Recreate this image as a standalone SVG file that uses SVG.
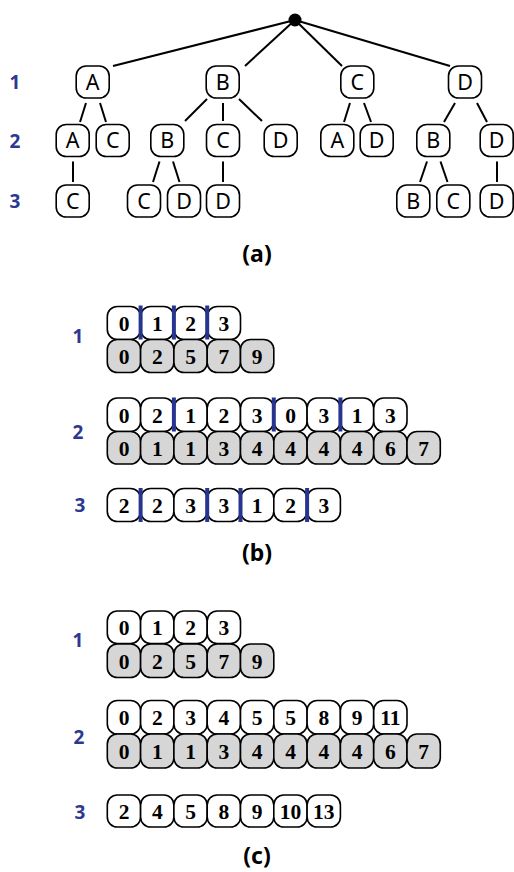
<svg xmlns="http://www.w3.org/2000/svg" width="514" height="872" viewBox="0 0 514 872">
<style>
.bg{fill:#ffffff}
.tn rect{fill:#fff;stroke:#000;stroke-width:1.6}
.tn text{font-family:"Noto Sans","Liberation Sans",sans-serif;font-size:21.5px;fill:#000;text-anchor:middle}
.edges line{stroke:#000;stroke-width:2;stroke-linecap:butt}
.lvl{font-family:"Noto Sans","Liberation Sans",sans-serif;font-size:19px;font-weight:bold;fill:#2b3990;text-anchor:middle}
.cap{font-family:"Noto Sans","Liberation Sans",sans-serif;font-size:23px;font-weight:bold;fill:#000;text-anchor:middle}
.cw rect{fill:#fff;stroke:#000;stroke-width:1.6}
.cg rect{fill:#d6d6d6;stroke:#000;stroke-width:1.6}
.cell text{font-family:"Liberation Serif","Times New Roman",serif;font-size:21.5px;font-weight:bold;fill:#000;text-anchor:middle}
.sep line{stroke:#27358f;stroke-width:4}
</style>
<rect class="bg" x="0" y="0" width="514" height="872"/>

<!-- (a) tree -->
<g class="edges" id="tree-edges">
<line x1="295" y1="20" x2="113" y2="66"/>
<line x1="295" y1="20" x2="245" y2="66"/>
<line x1="295" y1="20" x2="342" y2="66"/>
<line x1="295" y1="20" x2="450" y2="66"/>
<line x1="86" y1="103" x2="80" y2="122"/>
<line x1="100" y1="103" x2="106" y2="122"/>
<line x1="207" y1="99" x2="185" y2="121"/>
<line x1="223" y1="103" x2="223" y2="121"/>
<line x1="239" y1="99" x2="262" y2="121"/>
<line x1="350" y1="103" x2="344" y2="122"/>
<line x1="364" y1="103" x2="371" y2="122"/>
<line x1="455" y1="103" x2="444" y2="122"/>
<line x1="477" y1="103" x2="487" y2="122"/>
<line x1="73" y1="161.5" x2="73" y2="182"/>
<line x1="159.5" y1="161.5" x2="153" y2="182"/>
<line x1="173" y1="161.5" x2="179.5" y2="182"/>
<line x1="223" y1="161.5" x2="223" y2="182"/>
<line x1="427" y1="161.5" x2="420" y2="182"/>
<line x1="440.5" y1="161.5" x2="447.5" y2="182"/>
<line x1="497" y1="161.5" x2="497" y2="182"/>
</g>
<circle id="root" cx="295" cy="20" r="6.5" fill="#000"/>

<g id="n1A" class="tn"><rect x="76.2" y="66" width="33" height="32" rx="10"/><text x="92.7" y="89.5">A</text></g>
<g id="n1B" class="tn"><rect x="206.2" y="66" width="33" height="32" rx="10"/><text x="222.7" y="89.5">B</text></g>
<g id="n1C" class="tn"><rect x="340.8" y="66" width="33" height="32" rx="10"/><text x="357.3" y="89.5">C</text></g>
<g id="n1D" class="tn"><rect x="448.5" y="66" width="33" height="32" rx="10"/><text x="465" y="89.5">D</text></g>

<g id="n2AA" class="tn"><rect x="56.2" y="124.5" width="33" height="32" rx="10"/><text x="72.7" y="148">A</text></g>
<g id="n2AC" class="tn"><rect x="96.2" y="124.5" width="33" height="32" rx="10"/><text x="112.7" y="148">C</text></g>
<g id="n2BB" class="tn"><rect x="150.8" y="124.5" width="33" height="32" rx="10"/><text x="167.3" y="148">B</text></g>
<g id="n2BC" class="tn"><rect x="206.5" y="124.5" width="33" height="32" rx="10"/><text x="223" y="148">C</text></g>
<g id="n2BD" class="tn"><rect x="264.2" y="124.5" width="33" height="32" rx="10"/><text x="280.7" y="148">D</text></g>
<g id="n2CA" class="tn"><rect x="320.8" y="124.5" width="33" height="32" rx="10"/><text x="337.3" y="148">A</text></g>
<g id="n2CD" class="tn"><rect x="360.2" y="124.5" width="33" height="32" rx="10"/><text x="376.7" y="148">D</text></g>
<g id="n2DB" class="tn"><rect x="416.8" y="124.5" width="33" height="32" rx="10"/><text x="433.3" y="148">B</text></g>
<g id="n2DD" class="tn"><rect x="480.2" y="124.5" width="33" height="32" rx="10"/><text x="496.7" y="148">D</text></g>

<g id="n3AAC" class="tn"><rect x="56.2" y="185" width="33" height="32" rx="10"/><text x="72.7" y="208.5">C</text></g>
<g id="n3BBC" class="tn"><rect x="127.5" y="185" width="33" height="32" rx="10"/><text x="144" y="208.5">C</text></g>
<g id="n3BBD" class="tn"><rect x="167.5" y="185" width="33" height="32" rx="10"/><text x="184" y="208.5">D</text></g>
<g id="n3BCD" class="tn"><rect x="206.5" y="185" width="33" height="32" rx="10"/><text x="223" y="208.5">D</text></g>
<g id="n3DBB" class="tn"><rect x="396.8" y="185" width="33" height="32" rx="10"/><text x="413.3" y="208.5">B</text></g>
<g id="n3DBC" class="tn"><rect x="436.8" y="185" width="33" height="32" rx="10"/><text x="453.3" y="208.5">C</text></g>
<g id="n3DDD" class="tn"><rect x="480.2" y="185" width="33" height="32" rx="10"/><text x="496.7" y="208.5">D</text></g>

<g id="tree-levels">
<text class="lvl" x="15" y="89">1</text>
<text class="lvl" x="15" y="148">2</text>
<text class="lvl" x="15" y="208">3</text>
</g>
<text class="cap" x="257" y="262">(a)</text>

<!-- (b) -->
<g id="b1-top" class="cell cw">
<rect x="107.3" y="306.5" width="33.3" height="33" rx="10"/><text x="124" y="330.5">0</text>
<rect x="140.6" y="306.5" width="33.3" height="33" rx="10"/><text x="157.3" y="330.5">1</text>
<rect x="173.9" y="306.5" width="33.3" height="33" rx="10"/><text x="190.6" y="330.5">2</text>
<rect x="207.2" y="306.5" width="33.3" height="33" rx="10"/><text x="223.9" y="330.5">3</text>
</g>
<g id="b1-bot" class="cell cg">
<rect x="107.3" y="339.5" width="33.3" height="33" rx="10"/><text x="124" y="363.5">0</text>
<rect x="140.6" y="339.5" width="33.3" height="33" rx="10"/><text x="157.3" y="363.5">2</text>
<rect x="173.9" y="339.5" width="33.3" height="33" rx="10"/><text x="190.6" y="363.5">5</text>
<rect x="207.2" y="339.5" width="33.3" height="33" rx="10"/><text x="223.9" y="363.5">7</text>
<rect x="240.5" y="339.5" width="33.3" height="33" rx="10"/><text x="257.2" y="363.5">9</text>
</g>
<g id="b1-sep" class="sep">
<line x1="140.6" y1="305.5" x2="140.6" y2="339.5"/>
<line x1="173.9" y1="305.5" x2="173.9" y2="339.5"/>
<line x1="207.2" y1="305.5" x2="207.2" y2="339.5"/>
</g>

<g id="b2-top" class="cell cw">
<rect x="107.3" y="398" width="33.3" height="33.5" rx="10"/><text x="124" y="422.5">0</text>
<rect x="140.6" y="398" width="33.3" height="33.5" rx="10"/><text x="157.3" y="422.5">2</text>
<rect x="173.9" y="398" width="33.3" height="33.5" rx="10"/><text x="190.6" y="422.5">1</text>
<rect x="207.2" y="398" width="33.3" height="33.5" rx="10"/><text x="223.9" y="422.5">2</text>
<rect x="240.5" y="398" width="33.3" height="33.5" rx="10"/><text x="257.2" y="422.5">3</text>
<rect x="273.8" y="398" width="33.3" height="33.5" rx="10"/><text x="290.5" y="422.5">0</text>
<rect x="307.1" y="398" width="33.3" height="33.5" rx="10"/><text x="323.8" y="422.5">3</text>
<rect x="340.4" y="398" width="33.3" height="33.5" rx="10"/><text x="357.1" y="422.5">1</text>
<rect x="373.7" y="398" width="33.3" height="33.5" rx="10"/><text x="390.4" y="422.5">3</text>
</g>
<g id="b2-bot" class="cell cg">
<rect x="107.3" y="431.5" width="33.3" height="32.5" rx="10"/><text x="124" y="455.5">0</text>
<rect x="140.6" y="431.5" width="33.3" height="32.5" rx="10"/><text x="157.3" y="455.5">1</text>
<rect x="173.9" y="431.5" width="33.3" height="32.5" rx="10"/><text x="190.6" y="455.5">1</text>
<rect x="207.2" y="431.5" width="33.3" height="32.5" rx="10"/><text x="223.9" y="455.5">3</text>
<rect x="240.5" y="431.5" width="33.3" height="32.5" rx="10"/><text x="257.2" y="455.5">4</text>
<rect x="273.8" y="431.5" width="33.3" height="32.5" rx="10"/><text x="290.5" y="455.5">4</text>
<rect x="307.1" y="431.5" width="33.3" height="32.5" rx="10"/><text x="323.8" y="455.5">4</text>
<rect x="340.4" y="431.5" width="33.3" height="32.5" rx="10"/><text x="357.1" y="455.5">4</text>
<rect x="373.7" y="431.5" width="33.3" height="32.5" rx="10"/><text x="390.4" y="455.5">6</text>
<rect x="407" y="431.5" width="33.3" height="32.5" rx="10"/><text x="423.7" y="455.5">7</text>
</g>
<g id="b2-sep" class="sep">
<line x1="173.9" y1="397.5" x2="173.9" y2="431.5"/>
<line x1="273.8" y1="397.5" x2="273.8" y2="431.5"/>
<line x1="340.4" y1="397.5" x2="340.4" y2="431.5"/>
</g>

<g id="b3" class="cell cw">
<rect x="107.3" y="488.5" width="33.3" height="33" rx="10"/><text x="124" y="512.5">2</text>
<rect x="140.6" y="488.5" width="33.3" height="33" rx="10"/><text x="157.3" y="512.5">2</text>
<rect x="173.9" y="488.5" width="33.3" height="33" rx="10"/><text x="190.6" y="512.5">3</text>
<rect x="207.2" y="488.5" width="33.3" height="33" rx="10"/><text x="223.9" y="512.5">3</text>
<rect x="240.5" y="488.5" width="33.3" height="33" rx="10"/><text x="257.2" y="512.5">1</text>
<rect x="273.8" y="488.5" width="33.3" height="33" rx="10"/><text x="290.5" y="512.5">2</text>
<rect x="307.1" y="488.5" width="33.3" height="33" rx="10"/><text x="323.8" y="512.5">3</text>
</g>
<g id="b3-sep" class="sep">
<line x1="140.6" y1="488" x2="140.6" y2="522"/>
<line x1="207.2" y1="488" x2="207.2" y2="522"/>
<line x1="240.5" y1="488" x2="240.5" y2="522"/>
<line x1="307.1" y1="488" x2="307.1" y2="522"/>
</g>

<g id="b-levels">
<text class="lvl" x="78" y="343">1</text>
<text class="lvl" x="78" y="439">2</text>
<text class="lvl" x="80" y="512">3</text>
</g>
<text class="cap" x="257" y="561">(b)</text>

<!-- (c) -->
<g id="c1-top" class="cell cw">
<rect x="107.3" y="611" width="33.3" height="32.5" rx="10"/><text x="124" y="635">0</text>
<rect x="140.6" y="611" width="33.3" height="32.5" rx="10"/><text x="157.3" y="635">1</text>
<rect x="173.9" y="611" width="33.3" height="32.5" rx="10"/><text x="190.6" y="635">2</text>
<rect x="207.2" y="611" width="33.3" height="32.5" rx="10"/><text x="223.9" y="635">3</text>
</g>
<g id="c1-bot" class="cell cg">
<rect x="107.3" y="644" width="33.3" height="33.5" rx="10"/><text x="124" y="668.5">0</text>
<rect x="140.6" y="644" width="33.3" height="33.5" rx="10"/><text x="157.3" y="668.5">2</text>
<rect x="173.9" y="644" width="33.3" height="33.5" rx="10"/><text x="190.6" y="668.5">5</text>
<rect x="207.2" y="644" width="33.3" height="33.5" rx="10"/><text x="223.9" y="668.5">7</text>
<rect x="240.5" y="644" width="33.3" height="33.5" rx="10"/><text x="257.2" y="668.5">9</text>
</g>

<g id="c2-top" class="cell cw">
<rect x="107.3" y="700.5" width="33.3" height="33.5" rx="10"/><text x="124" y="725">0</text>
<rect x="140.6" y="700.5" width="33.3" height="33.5" rx="10"/><text x="157.3" y="725">2</text>
<rect x="173.9" y="700.5" width="33.3" height="33.5" rx="10"/><text x="190.6" y="725">3</text>
<rect x="207.2" y="700.5" width="33.3" height="33.5" rx="10"/><text x="223.9" y="725">4</text>
<rect x="240.5" y="700.5" width="33.3" height="33.5" rx="10"/><text x="257.2" y="725">5</text>
<rect x="273.8" y="700.5" width="33.3" height="33.5" rx="10"/><text x="290.5" y="725">5</text>
<rect x="307.1" y="700.5" width="33.3" height="33.5" rx="10"/><text x="323.8" y="725">8</text>
<rect x="340.4" y="700.5" width="33.3" height="33.5" rx="10"/><text x="357.1" y="725">9</text>
<rect x="373.7" y="700.5" width="33.3" height="33.5" rx="10"/><text x="390.4" y="725">11</text>
</g>
<g id="c2-bot" class="cell cg">
<rect x="107.3" y="734" width="33.3" height="34" rx="10"/><text x="124" y="759">0</text>
<rect x="140.6" y="734" width="33.3" height="34" rx="10"/><text x="157.3" y="759">1</text>
<rect x="173.9" y="734" width="33.3" height="34" rx="10"/><text x="190.6" y="759">1</text>
<rect x="207.2" y="734" width="33.3" height="34" rx="10"/><text x="223.9" y="759">3</text>
<rect x="240.5" y="734" width="33.3" height="34" rx="10"/><text x="257.2" y="759">4</text>
<rect x="273.8" y="734" width="33.3" height="34" rx="10"/><text x="290.5" y="759">4</text>
<rect x="307.1" y="734" width="33.3" height="34" rx="10"/><text x="323.8" y="759">4</text>
<rect x="340.4" y="734" width="33.3" height="34" rx="10"/><text x="357.1" y="759">4</text>
<rect x="373.7" y="734" width="33.3" height="34" rx="10"/><text x="390.4" y="759">6</text>
<rect x="407" y="734" width="33.3" height="34" rx="10"/><text x="423.7" y="759">7</text>
</g>

<g id="c3" class="cell cw">
<rect x="107.3" y="795" width="33.3" height="32" rx="10"/><text x="124" y="819">2</text>
<rect x="140.6" y="795" width="33.3" height="32" rx="10"/><text x="157.3" y="819">4</text>
<rect x="173.9" y="795" width="33.3" height="32" rx="10"/><text x="190.6" y="819">5</text>
<rect x="207.2" y="795" width="33.3" height="32" rx="10"/><text x="223.9" y="819">8</text>
<rect x="240.5" y="795" width="33.3" height="32" rx="10"/><text x="257.2" y="819">9</text>
<rect x="273.8" y="795" width="33.3" height="32" rx="10"/><text x="290.5" y="819">10</text>
<rect x="307.1" y="795" width="33.3" height="32" rx="10"/><text x="323.8" y="819">13</text>
</g>

<g id="c-levels">
<text class="lvl" x="78" y="647">1</text>
<text class="lvl" x="79" y="744">2</text>
<text class="lvl" x="80" y="819">3</text>
</g>
<text class="cap" x="257" y="864">(c)</text>
</svg>
